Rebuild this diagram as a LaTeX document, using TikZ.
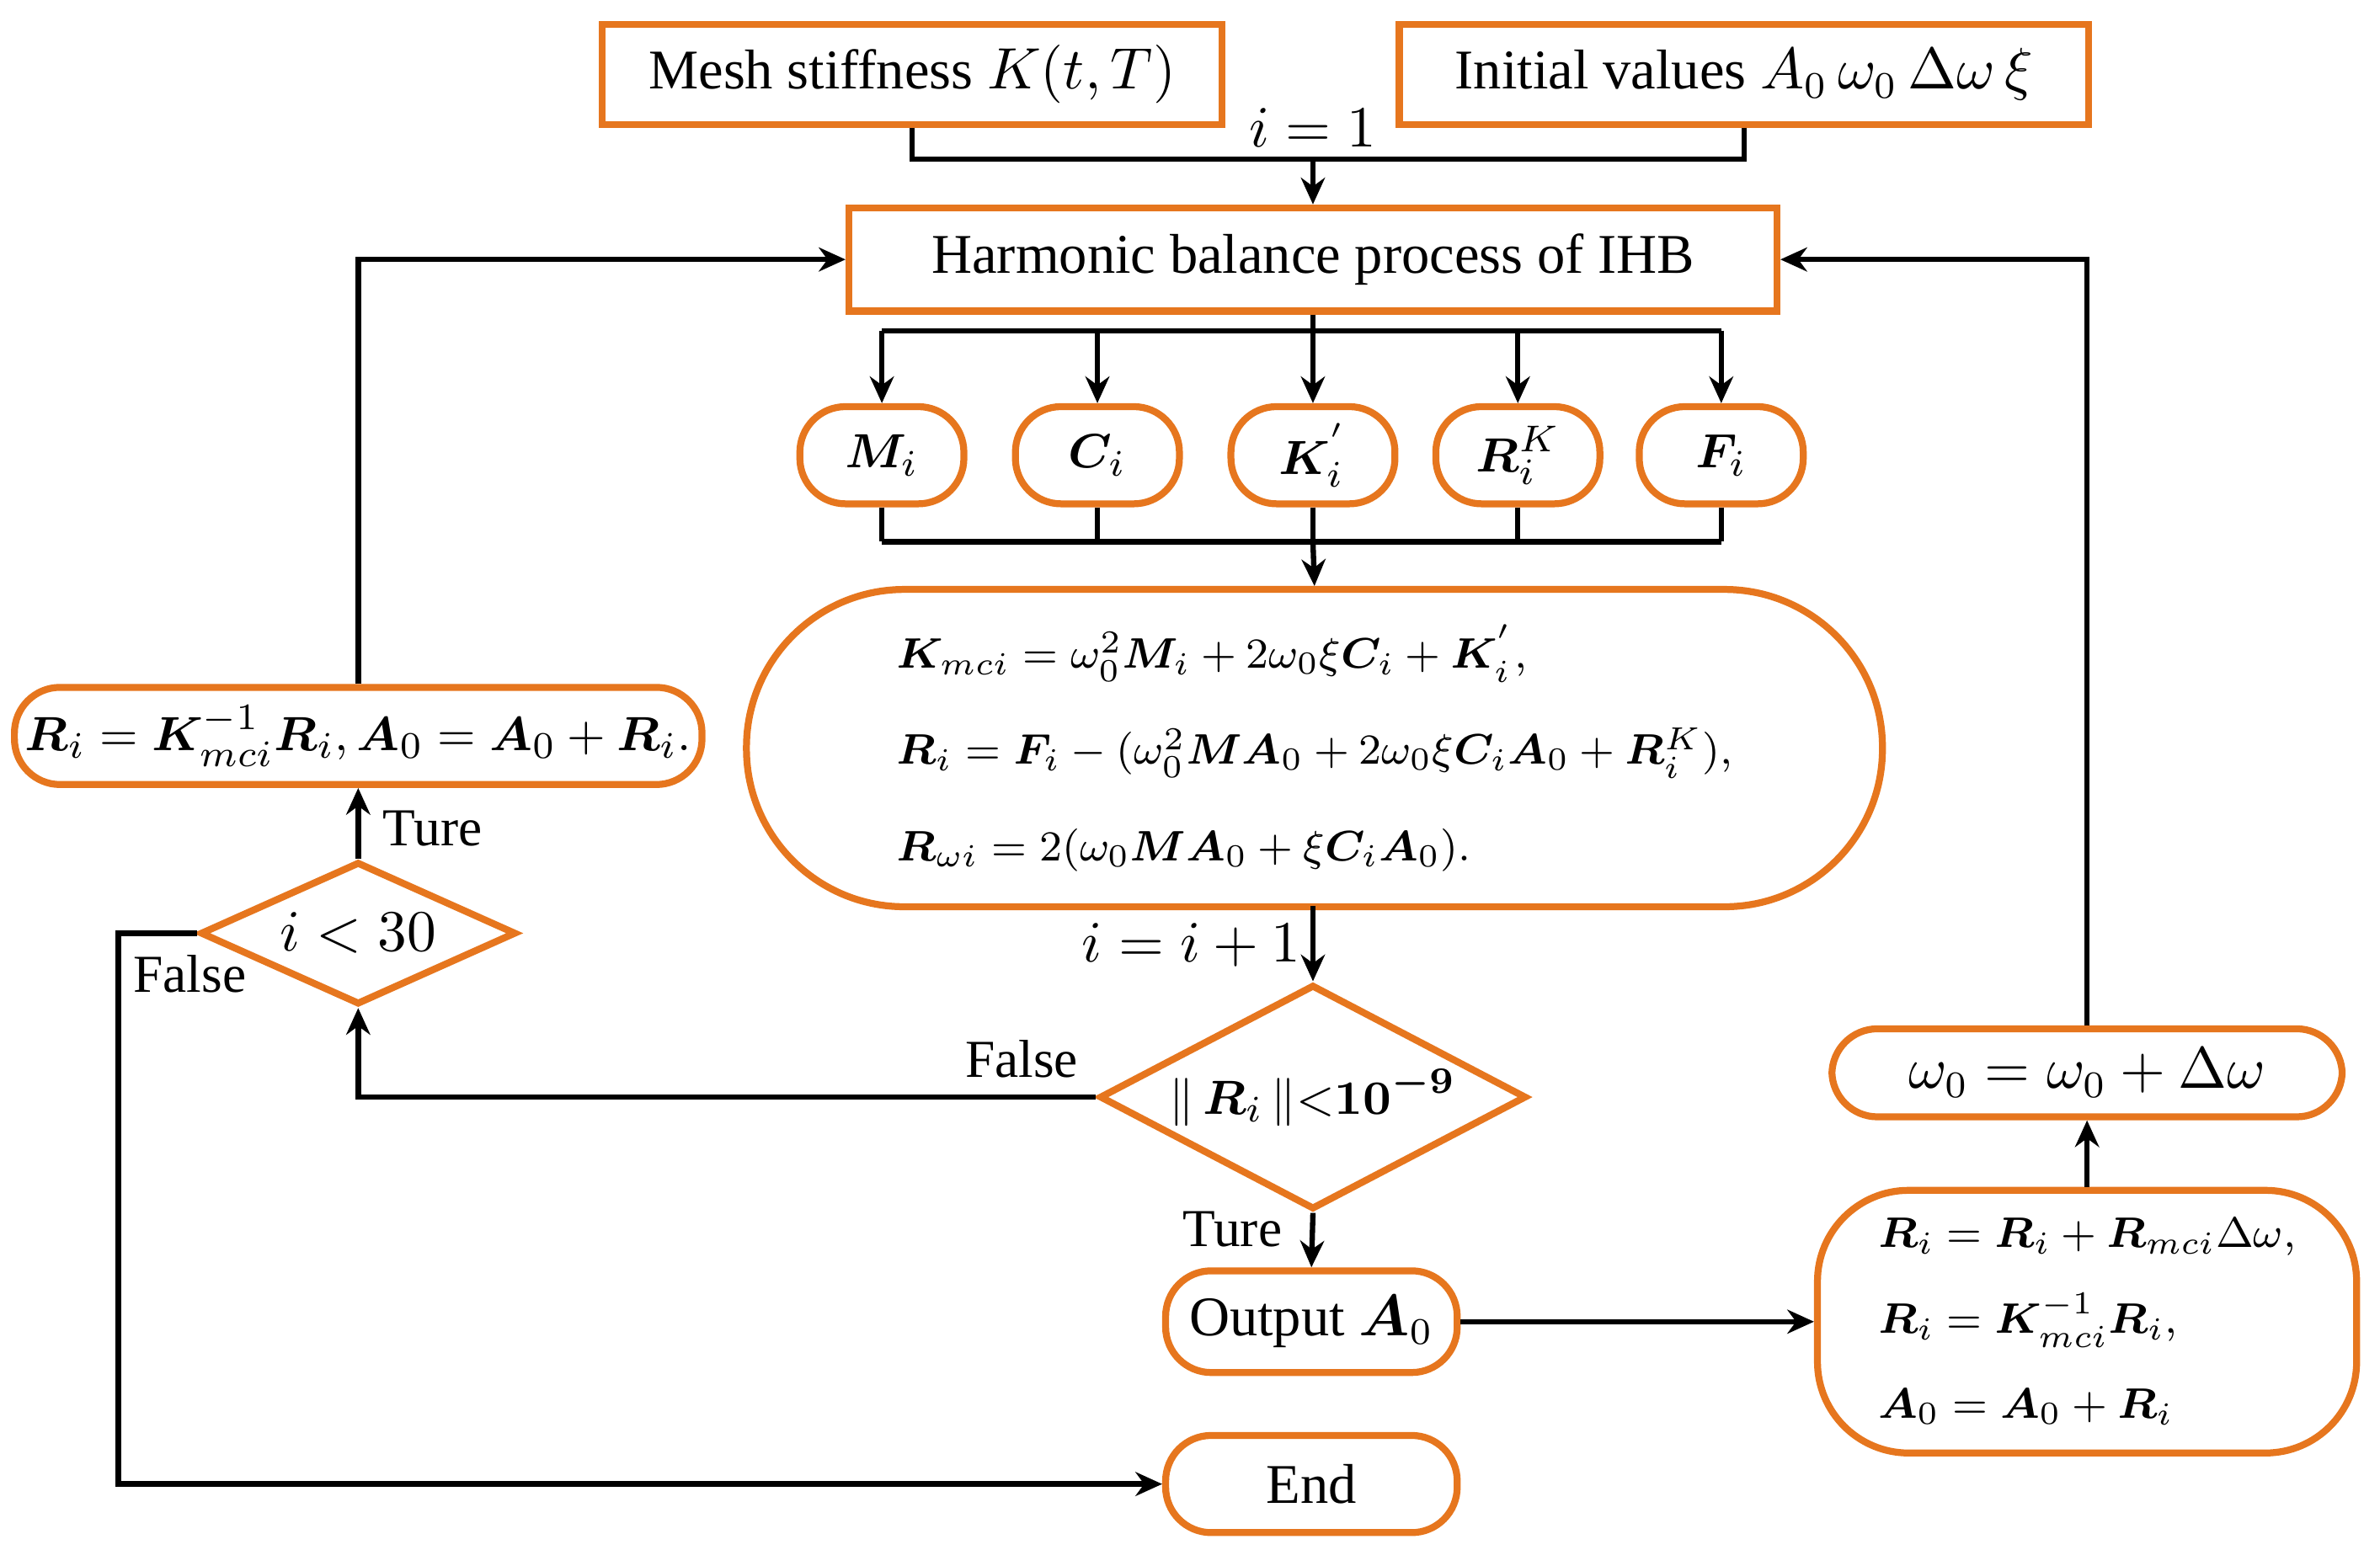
\documentclass[tikz,border=0pt]{standalone}
\usepackage{amsmath,bm}
\usepackage{fontspec}
\setmainfont{Liberation Serif}
\usetikzlibrary{shapes.geometric,arrows.meta}
\definecolor{org}{RGB}{230,118,30}
\begin{document}
\begin{tikzpicture}[x=0.01cm,y=-0.01cm,
 box/.style={draw=org,line width=1.3pt,minimum height=0.64cm,inner sep=2pt,font=\fontsize{10.5}{12}\selectfont},
 pill/.style={box,rounded corners=0.3cm},
 dia/.style={draw=org,line width=1.3pt,diamond,aspect=1.9,inner sep=1pt,font=\fontsize{9.5}{11}\selectfont},
 ln/.style={line width=1pt},
 ar/.style={ln,-{Stealth[length=5pt,width=4.5pt]}},
 lab/.style={font=\fontsize{10}{11}\selectfont}]
\useasboundingbox (0,0) rectangle (1568,1021);
\node[box,minimum width=4.08cm,minimum height=0.66cm] (mesh) at (601,49) {Mesh stiffness $K(t,T)$};
\node[box,minimum width=4.54cm,minimum height=0.66cm] (init) at (1149,49) {Initial values $A_0\,\omega_0\,\Delta\omega\,\xi$};
\node[box,minimum width=6.11cm,minimum height=0.68cm] (hb) at (865,171) {Harmonic balance process of IHB};
\foreach \n/\x/\t in {m/581/{\bm M_i},c/723/{\bm C_i},k/865/{\bm K_i^{'}},r/1000/{\bm R_i^K},f/1134/{\bm F_i}}
 \node[pill,minimum width=1.08cm,minimum height=0.64cm,font=\fontsize{9.5}{11}\selectfont] (\n) at (\x,300) {$\t$};
\node[draw=org,line width=1.3pt,rounded corners=1.04cm,minimum width=7.48cm,minimum height=2.09cm,font=\fontsize{8.5}{10}\selectfont,align=left] (big) at (866,493) {%
$\bm K_{mci}=\omega_0^2\bm M_i+2\omega_0\xi\bm C_i+\bm K_i^{'},$\\[8pt]
$\bm R_i=\bm F_i-(\omega_0^2\bm M\bm A_0+2\omega_0\xi\bm C_i\bm A_0+\bm R_i^K),$\\[8pt]
$\bm R_{\omega i}=2(\omega_0\bm M\bm A_0+\xi\bm C_i\bm A_0).$};
\node[dia,minimum width=2.77cm,minimum height=1.47cm] (d1) at (865,723) {$\|\,\bm R_i\,\|{<}\bm{10^{-9}}$};
\node[dia,minimum width=2.08cm,minimum height=0.94cm,font=\fontsize{11}{12}\selectfont] (d2) at (236,615) {$i<30$};
\node[pill,minimum width=4.47cm,font=\fontsize{9.5}{11}\selectfont] (ri) at (236,485) {$\bm R_i=\bm K_{mci}^{-1}\bm R_i,\bm A_0=\bm A_0+\bm R_i.$};
\node[pill,minimum width=1.92cm,minimum height=0.67cm] (out) at (864,871) {Output $\bm A_0$};
\node[pill,minimum width=1.92cm] (end) at (864,978) {End};
\node[draw=org,line width=1.3pt,rounded corners=0.6cm,minimum width=3.55cm,minimum height=1.73cm,font=\fontsize{8.5}{10}\selectfont,align=left] (rb) at (1375,871) {%
$\bm R_i=\bm R_i+\bm R_{mci}\Delta\omega,$\\[6pt]
$\bm R_i=\bm K_{mci}^{-1}\bm R_i,$\\[6pt]
$\bm A_0=\bm A_0+\bm R_i$};
\node[pill,minimum width=3.36cm,minimum height=0.58cm] (om) at (1375,707) {$\omega_0=\omega_0+\Delta\omega$};
% labels
\node[lab,font=\fontsize{11}{12}\selectfont] (l1) at (865,84) {$i=1$};
\node[lab,font=\fontsize{11}{12}\selectfont] (l2) at (785,623) {$i=i+1$};
\node[lab] (l3) at (673,698) {False};
\node[lab] (l4) at (285,546) {Ture};
\node[lab] (l5) at (125,642) {False};
\node[lab] (l6) at (812,810) {Ture};
% connectors
\coordinate (j1) at (865,105);
\draw[ln] (mesh.south) |- (j1) -| (init.south);
\draw[ar] (j1) -- (hb.north);
\coordinate (j2) at (865,218);
\draw[ln] (hb.south) -- (j2);
\draw[ln] (581,218) -- (1134,218);
\foreach \n/\x in {m/581,c/723,k/865,r/1000,f/1134} \draw[ar] (\x,218) -- (\n.north);
\foreach \n/\x in {m/581,c/723,k/865,r/1000,f/1134} \draw[ln] (\n.south) -- (\x,357);
\draw[ln] (581,357) -- (1134,357);
\draw[ar] (865,357) -- (big.north);
\draw[ar] (865,597) -- (d1.north);
\draw[ar] (d1.west) -| (d2.south);
\draw[ar] (d2.north) -- (ri.south);
\draw[ar] (ri.north) |- (hb.west);
\draw[ar] (d2.west) -- (78,615) |- (end.west);
\draw[ar] (d1.south) -- (out.north);
\draw[ar] (out.east) -- (rb.west);
\draw[ar] (rb.north) -- (om.south);
\draw[ar] (om.north) |- (hb.east);
\end{tikzpicture}
\end{document}
